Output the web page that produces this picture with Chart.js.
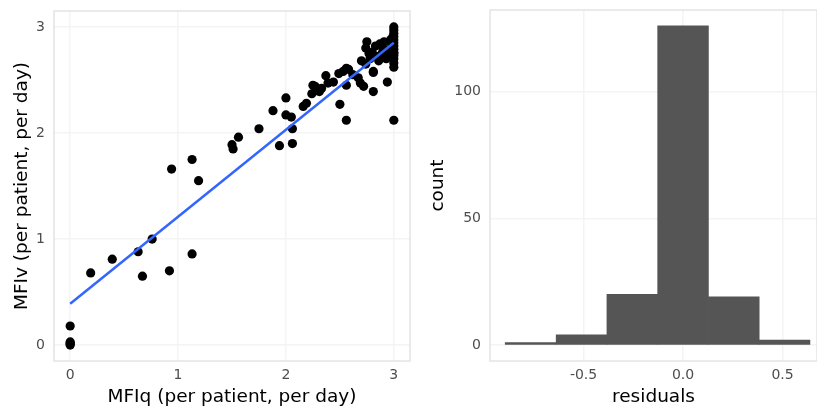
<!DOCTYPE html>
<html>
<head>
<meta charset="utf-8">
<script src="https://cdn.jsdelivr.net/npm/chart.js@4/dist/chart.umd.min.js"></script>
<style>
  html, body { margin: 0; padding: 0; background: #fff; }
  #wrap { position: relative; width: 817px; height: 414px; overflow: hidden; }
  #scatter { position: absolute; left: 0; top: 0; }
  #hist { position: absolute; left: 420px; top: 0; }
</style>
</head>
<body>
<div id="wrap">
  <canvas id="scatter" width="415" height="414"></canvas>
  <canvas id="hist" width="397" height="414"></canvas>
</div>
<script>
// scatter: MFIq vs MFIv, one entry per patient
const mfiq = [
  0, 0, 0, 0, 0,
  0.19, 0.39, 0.63, 0.67, 0.76, 0.92, 0.94, 1.13, 1.13, 1.19,
  1.50, 1.51, 1.56, 1.75, 1.88, 1.94, 2.00, 2.00, 2.05, 2.06, 2.06,
  2.16, 2.19, 2.24, 2.25, 2.27, 2.28, 2.31, 2.33, 2.37, 2.39,
  2.44, 2.49, 2.50, 2.53, 2.56, 2.56, 2.56, 2.58, 2.62, 2.67, 2.69, 2.70, 2.72,
  2.74, 2.75, 2.74, 2.77, 2.78, 2.80, 2.81, 2.81, 2.81, 2.83, 2.85, 2.86, 2.87,
  2.89, 2.90, 2.91, 2.93, 2.94, 2.95, 2.96, 2.97, 2.98, 2.99,
  3.00, 3.00, 3.00, 3.00, 3.00, 3.00, 3.00, 3.00, 3.00, 3.00, 3.00, 3.00, 3.00, 3.00, 3.00
];
const mfiv = [
  0.00, 0.01, 0.03, 0.02, 0.18,
  0.68, 0.81, 0.88, 0.65, 1.00, 0.70, 1.66, 0.86, 1.75, 1.55,
  1.89, 1.85, 1.96, 2.04, 2.21, 1.88, 2.33, 2.17, 2.15, 2.04, 1.90,
  2.25, 2.28, 2.37, 2.45, 2.44, 2.40, 2.39, 2.42, 2.54, 2.47,
  2.48, 2.56, 2.27, 2.58, 2.12, 2.45, 2.61, 2.60, 2.55, 2.52, 2.47, 2.68, 2.44,
  2.65, 2.86, 2.80, 2.75, 2.70, 2.76, 2.58, 2.39, 2.57, 2.82, 2.72, 2.68, 2.84,
  2.75, 2.80, 2.86, 2.70, 2.48, 2.78, 2.74, 2.88, 2.83, 2.90,
  2.62, 2.66, 2.70, 2.73, 2.76, 2.79, 2.82, 2.85, 2.88, 2.91, 2.94, 2.97, 3.00, 2.12, 2.75
];
// fitted line ends
const fitX = [0, 3];
const fitY = [0.39, 2.85];
const scatterTicks = [0, 1, 2, 3];

// histogram of residuals
const binCenters = [-0.766, -0.51, -0.255, 0, 0.255, 0.51];
const binCounts = [1, 4, 20, 126, 19, 2];
const residTicks = [-0.5, 0, 0.5];
const countTicks = [0, 50, 100];

const tickFont = { family: 'DejaVu Sans', size: 14 };
const titleFont = { family: 'DejaVu Sans', size: 18.5 };
const gridStyle = { color: '#f4f4f4', lineWidth: 1.5, drawTicks: false };

// light grey panel outline like the ggplot theme
const panelBorder = {
  id: 'panelBorder',
  beforeDatasetsDraw(chart) {
    const { ctx, chartArea: a } = chart;
    ctx.save();
    ctx.strokeStyle = '#e4e4e4';
    ctx.lineWidth = 1.5;
    ctx.strokeRect(a.left, a.top, a.right - a.left, a.bottom - a.top);
    ctx.restore();
  }
};

function fixedTicks(values) {
  return scale => { scale.ticks = values.map(v => ({ value: v })); };
}

// fixed box size, and no extra room kept for the end labels
function boxHeight(h) {
  return s => { s.height = h; s.paddingLeft = 0; s.paddingRight = 0; };
}
function boxWidth(w) {
  return s => { s.width = w; s.paddingTop = 0; s.paddingBottom = 0; };
}

new Chart(document.getElementById('scatter'), {
  type: 'scatter',
  data: {
    datasets: [
      {
        type: 'line',
        data: fitX.map((x, i) => ({ x: x, y: fitY[i] })),
        borderColor: '#3366FF',
        borderWidth: 2.5,
        pointRadius: 0,
        order: 0
      },
      {
        data: mfiq.map((x, i) => ({ x: x, y: mfiv[i] })),
        backgroundColor: '#000',
        borderWidth: 0,
        pointRadius: 4.6,
        order: 1
      }
    ]
  },
  options: {
    responsive: false,
    animation: false,
    layout: { padding: { top: 11, right: 5, left: 0, bottom: 0 } },
    plugins: { legend: { display: false }, tooltip: { enabled: false } },
    scales: {
      x: {
        type: 'linear', min: -0.15, max: 3.15,
        afterBuildTicks: fixedTicks(scatterTicks),
        afterFit: boxHeight(53),
        grid: gridStyle,
        border: { display: false },
        ticks: { color: '#4d4d4d', font: tickFont, padding: 6, callback: v => v },
        title: { display: true, text: 'MFIq (per patient, per day)', color: '#000',
                 font: titleFont, padding: { top: 0, bottom: 6 } }
      },
      y: {
        type: 'linear', min: -0.15, max: 3.15,
        afterBuildTicks: fixedTicks(scatterTicks),
        afterFit: boxWidth(54),
        grid: gridStyle,
        border: { display: false },
        ticks: { color: '#4d4d4d', font: tickFont, padding: 9, callback: v => v },
        title: { display: true, text: 'MFIv (per patient, per day)', color: '#000',
                 font: titleFont, padding: { top: 11, bottom: 0 } }
      }
    }
  },
  plugins: [panelBorder]
});

new Chart(document.getElementById('hist'), {
  type: 'bar',
  data: {
    datasets: [{
      data: binCenters.map((c, i) => ({ x: c, y: binCounts[i] })),
      backgroundColor: '#555555',
      borderWidth: 0,
      barPercentage: 1,
      categoryPercentage: 1
    }]
  },
  options: {
    responsive: false,
    animation: false,
    layout: { padding: { top: 10, right: 0, left: 0, bottom: 0 } },
    plugins: { legend: { display: false }, tooltip: { enabled: false } },
    scales: {
      x: {
        type: 'linear', min: -0.97, max: 0.673, offset: false,
        afterBuildTicks: fixedTicks(residTicks),
        afterFit: boxHeight(53),
        grid: Object.assign({ offset: false }, gridStyle),
        border: { display: false },
        ticks: { color: '#4d4d4d', font: tickFont, padding: 6, callback: v => v.toFixed(1) },
        title: { display: true, text: 'residuals', color: '#000',
                 font: titleFont, padding: { top: 0, bottom: 6 } }
      },
      y: {
        type: 'linear', min: -6.3, max: 132.3,
        afterBuildTicks: fixedTicks(countTicks),
        afterFit: boxWidth(70),
        grid: gridStyle,
        border: { display: false },
        ticks: { color: '#4d4d4d', font: tickFont, padding: 9, callback: v => v },
        title: { display: true, text: 'count', color: '#000',
                 font: titleFont, padding: { top: 7, bottom: 0 } }
      }
    }
  },
  plugins: [panelBorder]
});
</script>
</body>
</html>
